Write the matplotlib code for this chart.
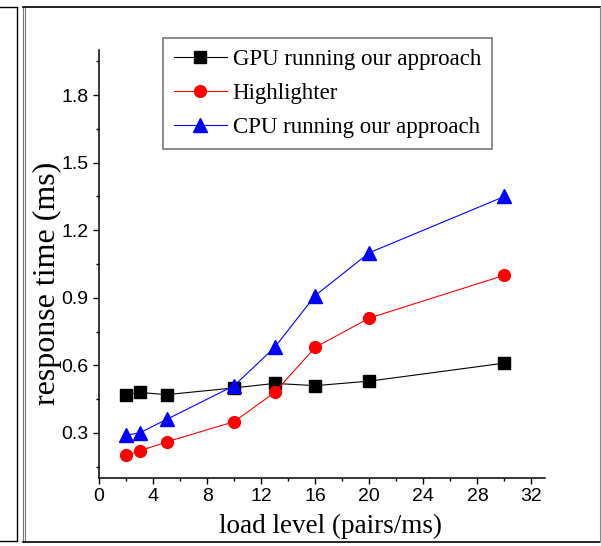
import matplotlib
matplotlib.use("Agg")
import matplotlib.pyplot as plt
from matplotlib.lines import Line2D
from matplotlib.ticker import MultipleLocator

# load level (pairs/ms)
load = [2, 3, 5, 10, 13, 16, 20, 30]

# response time (ms)
gpu_ours = [0.47, 0.48, 0.47, 0.50, 0.52, 0.51, 0.53, 0.61]
highlighter = [0.20, 0.22, 0.26, 0.35, 0.48, 0.68, 0.81, 1.00]
cpu_ours = [0.29, 0.30, 0.36, 0.51, 0.68, 0.91, 1.10, 1.35]

xticks = [0, 4, 8, 12, 16, 20, 24, 28, 32]
yticks = [0.3, 0.6, 0.9, 1.2, 1.5, 1.8]

sans = "Liberation Sans"
serif = "Liberation Serif"

W, H = 601, 546
fig = plt.figure(figsize=(W / 100, H / 100), dpi=100)
ax = fig.add_axes([99 / W, 1 - 478 / H, (545 - 99) / W, (478 - 50) / H])

ax.plot(load, gpu_ours, color="black", lw=0.8, marker="s", ms=8,
        mec="black", mfc="black", label="GPU running our approach")
ax.plot(load, highlighter, color="red", lw=0.8, marker="o", ms=8.5,
        mec="red", mfc="red", label="Highlighter")
ax.plot(load, cpu_ours, color="blue", lw=0.8, marker="^", ms=9.5,
        mec="blue", mfc="blue", label="CPU running our approach")

ax.set_xlim(0, 33)
ax.set_ylim(0.1, 2.0)
ax.set_xticks(xticks)
ax.set_yticks(yticks)
ax.set_xticklabels([str(t) for t in xticks], fontfamily=sans, fontsize=14)
ax.set_yticklabels(["%.1f" % t for t in yticks], fontfamily=sans, fontsize=14)
ax.xaxis.set_minor_locator(MultipleLocator(2))
ax.set_yticks([0.15 + 0.3 * i for i in range(7)], minor=True)
ax.tick_params(which="major", direction="out", length=4.5, width=1, pad=3)
ax.tick_params(which="minor", direction="out", length=2.5, width=1)

for side in ("top", "right"):
    ax.spines[side].set_visible(False)
for side in ("left", "bottom"):
    ax.spines[side].set_linewidth(1.1)

ax.set_xlabel("load level (pairs/ms)", fontfamily=serif, fontsize=19.5)
ax.set_ylabel("response time (ms)", fontfamily=serif, fontsize=23)
ax.xaxis.set_label_coords(0.52, -0.083)
ax.yaxis.set_label_coords(-0.083, 0.455)

leg = ax.legend(loc="upper left", bbox_to_anchor=(163 / W, 1 - 38 / H),
                bbox_transform=fig.transFigure, prop={"family": serif, "size": 16.5},
                frameon=True, fancybox=False, edgecolor="#555555",
                borderpad=0.48, labelspacing=0.56, handlelength=2.3,
                handletextpad=0.26, borderaxespad=0)
leg.get_frame().set_linewidth(1.2)

# outer frame of the panel and the edge of the neighbouring panel
def fline(xs, ys, color="black", lw=1.2):
    fig.add_artist(Line2D([x / W for x in xs], [1 - y / H for y in ys],
                          transform=fig.transFigure, color=color, lw=lw))

fline([0, 17, 17, 0], [7, 7, 541, 541], lw=1.0)
fline([23, 23], [7, 542], color="#777777", lw=0.8)
fline([25, 25], [7, 542], color="#777777", lw=0.8)
fline([23, 601], [7, 7], lw=1.2)
fline([23, 601], [542, 542], lw=1.2)
fline([600, 600], [7, 542], color="#888888", lw=0.8)

fig.savefig("out.png", dpi=100)
